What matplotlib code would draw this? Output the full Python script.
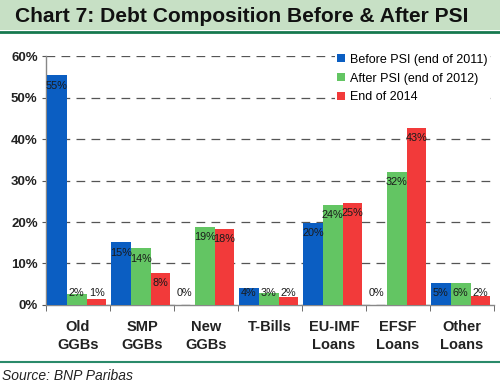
import matplotlib.pyplot as plt
import numpy as np
from matplotlib.patches import Rectangle

categories = ["Old\nGGBs", "SMP\nGGBs", "New\nGGBs", "T-Bills", "EU-IMF\nLoans", "EFSF\nLoans", "Other\nLoans"]
before_psi = [55.4, 15.1, 0.0, 4.2, 19.8, 0.0, 5.4]
after_psi = [2.7, 13.7, 18.9, 2.8, 24.1, 32.1, 5.4]
end_2014 = [1.5, 7.8, 18.3, 2.0, 24.6, 42.7, 2.2]
before_lbl = ["55%", "15%", "0%", "4%", "20%", "0%", "5%"]
after_lbl = ["2%", "14%", "19%", "3%", "24%", "32%", "6%"]
end_lbl = ["1%", "8%", "18%", "2%", "25%", "43%", "2%"]
series_names = ["Before PSI (end of 2011)", "After PSI (end of 2012)", "End of 2014"]
colors = ["#0b5ec2", "#63c563", "#f23a3a"]

plt.rcParams["font.family"] = ["Liberation Sans", "DejaVu Sans"]

fig = plt.figure(figsize=(5, 3.87), dpi=100)

# title band
fig.patches.append(Rectangle((0, 1 - 30 / 387), 1, 30 / 387, transform=fig.transFigure,
                             facecolor="#c7e0c5", edgecolor="none", zorder=0))
fig.lines.append(plt.Line2D([0, 1], [1 - 31.5 / 387] * 2, transform=fig.transFigure,
                            color="#16794f", lw=2))
fig.lines.append(plt.Line2D([0, 1], [1 - 362 / 387] * 2, transform=fig.transFigure,
                            color="#2a8a6a", lw=1.5))
fig.text(0.03, 1 - 16 / 387, "Chart 7: Debt Composition Before & After PSI",
         fontsize=15.1, fontweight="bold", va="center", ha="left", color="#111111")
fig.text(0.004, 1 - 376 / 387, "Source: BNP Paribas", fontsize=10, style="italic",
         va="center", ha="left", color="#222222")

ax = fig.add_axes([0.092, 0.212, 0.896, 0.643])
x = np.arange(len(categories))
w = 0.31
series = [before_psi, after_psi, end_2014]
labels = [before_lbl, after_lbl, end_lbl]
for i, (vals, lbls) in enumerate(zip(series, labels)):
    pos = x + (i - 1) * w - 0.02
    ax.bar(pos, vals, width=w, color=colors[i], label=series_names[i], zorder=3)
    for p, v, t in zip(pos, vals, lbls):
        y = max(v - 2.5, 3.0)
        ax.text(p, y, t, ha="center", va="center", fontsize=7.8, color="#1a1a1a", zorder=4)

ax.set_xlim(-0.5, len(categories) - 0.5)
ax.set_ylim(0, 60)
ax.set_yticks(range(0, 61, 10))
ax.set_yticklabels([f"{v}%" for v in range(0, 61, 10)], fontsize=9.5, fontweight="bold",
                   color="#222222")
ax.yaxis.grid(True, color="#555555", linestyle=(0, (7, 5)), lw=0.9, zorder=1)
ax.set_xticks(x)
ax.set_xticklabels(categories, fontsize=10.5, fontweight="bold", linespacing=1.3,
                   color="#222222")
ax.set_xticks(np.arange(-0.5, len(categories)), minor=True)
ax.tick_params(axis="x", which="major", length=0, pad=11)
ax.tick_params(axis="x", which="minor", length=4, color="#555555", direction="out")
ax.tick_params(axis="y", length=3, color="#555555", pad=3)
for s in ["top", "right"]:
    ax.spines[s].set_visible(False)
for s in ["left", "bottom"]:
    ax.spines[s].set_color("#888888")
    ax.spines[s].set_linewidth(1)

ax.legend(loc="upper right", bbox_to_anchor=(1.005, 1.045), frameon=True, fancybox=False,
          edgecolor="none", facecolor="white", framealpha=1, fontsize=9,
          handlelength=0.6, handleheight=0.6, handletextpad=0.4, labelspacing=0.55,
          borderpad=0.2)

fig.savefig("out.png", dpi=100)
